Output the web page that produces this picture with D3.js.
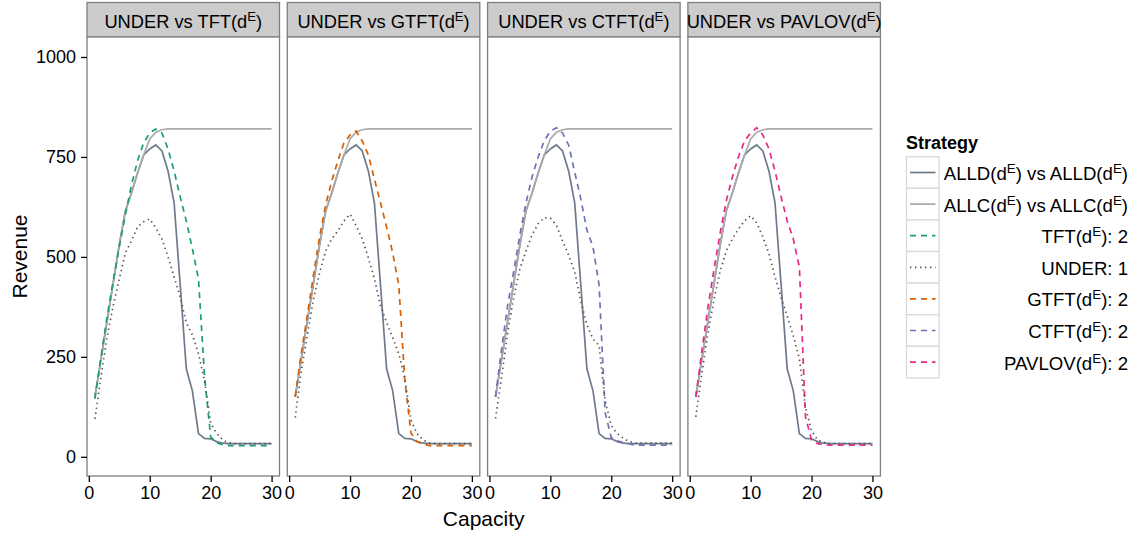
<!DOCTYPE html>
<html>
<head>
<meta charset="utf-8">
<script src="https://cdn.jsdelivr.net/npm/d3@7"></script>
<style>
  body { margin: 0; background: #fff; }
  svg { font-family: "Liberation Sans", Arial, sans-serif; }
</style>
</head>
<body>
<svg width="1136" height="536"></svg>
<script>
// capacity values on the x axis
const capacity = [1, 2, 3, 4, 5, 6, 7, 8, 9, 10, 11, 12, 13, 14, 15,
  16, 17, 18, 19, 20, 21, 22, 23, 24, 25, 26, 27, 28, 29, 30];

// baselines, same in every panel
const alld = [150, 245, 340, 435, 530, 615, 660, 710, 755, 770, 780, 765, 715, 635, 430,
  220, 165, 58, 46, 45, 38, 34, 33, 33, 33, 33, 33, 33, 33, 33];
const allc = [150, 245, 340, 435, 530, 615, 660, 710, 755, 795, 812, 818, 820, 820, 820,
  820, 820, 820, 820, 820, 820, 820, 820, 820, 820, 820, 820, 820, 820, 820];

// opponent strategy (2 of them) in each panel
const tft = [145, 250, 350, 440, 525, 605, 680, 740, 785, 810, 820, 810, 770, 715, 650,
  590, 520, 445, 200, 50, 35, 30, 28, 28, 28, 28, 28, 28, 28, 28];
const gtft = [150, 260, 355, 455, 550, 630, 690, 740, 785, 805, 815, 790, 755, 695, 635,
  575, 510, 430, 190, 60, 38, 32, 28, 28, 28, 28, 28, 28, 28, 28];
const ctft = [150, 270, 380, 465, 555, 635, 700, 750, 790, 815, 823, 810, 780, 712, 645,
  567, 525, 430, 110, 48, 40, 35, 32, 29, 29, 29, 29, 29, 29, 29];
const pavlov = [150, 265, 375, 470, 560, 640, 700, 750, 790, 810, 823, 805, 770, 715, 650,
  590, 545, 475, 100, 42, 33, 30, 29, 29, 29, 29, 29, 29, 29, 29];

// UNDER (1 of them) in each panel
const underTft = [95, 200, 300, 378, 445, 510, 540, 575, 588, 595, 572, 545, 500, 450, 400,
  335, 305, 258, 190, 85, 58, 42, 35, 33, 33, 33, 33, 33, 33, 33];
const underGtft = [98, 215, 305, 395, 460, 515, 545, 565, 590, 607, 578, 545, 498, 445, 378,
  336, 298, 258, 195, 92, 58, 42, 35, 33, 33, 33, 33, 33, 33, 33];
const underCtft = [96, 200, 310, 400, 470, 515, 555, 583, 598, 597, 579, 540, 505, 462, 390,
  330, 295, 278, 140, 78, 58, 46, 38, 34, 34, 34, 34, 34, 34, 34];
const underPavlov = [100, 210, 310, 395, 465, 515, 545, 570, 590, 603, 585, 550, 508, 450, 398,
  352, 303, 245, 125, 65, 42, 36, 33, 33, 33, 33, 33, 33, 33, 33];

const panelNames = ['TFT', 'GTFT', 'CTFT', 'PAVLOV'];
const panelSeries = [tft, gtft, ctft, pavlov];
const panelUnder = [underTft, underGtft, underCtft, underPavlov];

const xTicks = [0, 10, 20, 30];
const yTicks = [0, 250, 500, 750, 1000];

const colors = {
  ALLD: '#6d7b8b', ALLC: '#aaaaaa', UNDER: '#555555',
  TFT: '#1b9e77', GTFT: '#d95f02', CTFT: '#7570b3', PAVLOV: '#e7298a'
};
const dashed = '6,5';
const dotted = '1.4,3.6';

const svg = d3.select('svg');

const panelLeft = 87, panelW = 192.5, panelStep = 200.3;
const stripTop = 2.5, panelTop = 37, panelBottom = 476;

const x = d3.scaleLinear().domain([-0.3, 31.3]).range([0, panelW]);
const y = d3.scaleLinear().domain([-48, 1050]).range([panelBottom, panelTop]);

const line = d3.line()
  .x((d, i) => x(capacity[i]))
  .y(d => y(d));

// label with a superscript E after each "(d"
function richLabel(sel, parts) {
  parts.forEach(p => {
    if (p === '^E') {
      sel.append('tspan').attr('dy', -7).attr('font-size', '0.72em').text('E');
    } else if (p.startsWith(')')) {
      sel.append('tspan').attr('dy', 7).text(p);
    } else {
      sel.append('tspan').text(p);
    }
  });
}

panelNames.forEach((name, k) => {
  const g = svg.append('g').attr('transform', `translate(${panelLeft + k * panelStep},0)`);

  // strip
  g.append('rect')
    .attr('x', 0).attr('y', stripTop)
    .attr('width', panelW).attr('height', panelTop - stripTop)
    .attr('fill', '#cccccc').attr('stroke', '#7f7f7f').attr('stroke-width', 1.3);
  const st = g.append('text')
    .attr('x', panelW / 2).attr('y', 28)
    .attr('text-anchor', 'middle').attr('font-size', 18.3);
  richLabel(st, [`UNDER vs ${name}(d`, '^E', ')']);

  // panel
  g.append('rect')
    .attr('x', 0).attr('y', panelTop)
    .attr('width', panelW).attr('height', panelBottom - panelTop)
    .attr('fill', '#fff');

  const lines = [
    { v: alld, c: colors.ALLD, d: null },
    { v: allc, c: colors.ALLC, d: null },
    { v: panelSeries[k], c: colors[name], d: dashed },
    { v: panelUnder[k], c: colors.UNDER, d: dotted }
  ];
  lines.forEach(l => {
    g.append('path')
      .attr('d', line(l.v))
      .attr('fill', 'none')
      .attr('stroke', l.c)
      .attr('stroke-width', 1.7)
      .attr('stroke-dasharray', l.d);
  });

  g.append('rect')
    .attr('x', 0).attr('y', panelTop)
    .attr('width', panelW).attr('height', panelBottom - panelTop)
    .attr('fill', 'none').attr('stroke', '#7f7f7f').attr('stroke-width', 1.3);

  // x axis
  const xa = g.append('g').attr('transform', `translate(0,${panelBottom})`)
    .call(d3.axisBottom(x).tickValues(xTicks).tickSize(6).tickPadding(4));
  xa.select('.domain').remove();
  xa.selectAll('line').attr('stroke', '#000').attr('stroke-width', 1.3);
  xa.selectAll('text').attr('font-size', 18).attr('fill', '#000')
    .attr('font-family', '"Liberation Sans", Arial, sans-serif');
});

// y axis
const ya = svg.append('g').attr('transform', `translate(${panelLeft},0)`)
  .call(d3.axisLeft(y).tickValues(yTicks).tickFormat(d3.format('d')).tickSize(6).tickPadding(5));
ya.select('.domain').remove();
ya.selectAll('line').attr('stroke', '#000').attr('stroke-width', 1.3);
ya.selectAll('text').attr('font-size', 18).attr('fill', '#000')
  .attr('font-family', '"Liberation Sans", Arial, sans-serif');

// axis titles
svg.append('text')
  .attr('x', panelLeft + (3 * panelStep + panelW) / 2).attr('y', 526)
  .attr('text-anchor', 'middle').attr('font-size', 21).text('Capacity');
svg.append('text')
  .attr('transform', `translate(27,${(panelTop + panelBottom) / 2}) rotate(-90)`)
  .attr('text-anchor', 'middle').attr('font-size', 21).text('Revenue');

// legend
const legendItems = [
  { parts: ['ALLD(d', '^E', ') vs ALLD(d', '^E', ')'], c: colors.ALLD, d: null },
  { parts: ['ALLC(d', '^E', ') vs ALLC(d', '^E', ')'], c: colors.ALLC, d: null },
  { parts: ['TFT(d', '^E', '): 2'], c: colors.TFT, d: dashed },
  { parts: ['UNDER: 1'], c: colors.UNDER, d: dotted },
  { parts: ['GTFT(d', '^E', '): 2'], c: colors.GTFT, d: dashed },
  { parts: ['CTFT(d', '^E', '): 2'], c: colors.CTFT, d: dashed },
  { parts: ['PAVLOV(d', '^E', '): 2'], c: colors.PAVLOV, d: dashed }
];
const lg = svg.append('g');
lg.append('text').attr('x', 906).attr('y', 149)
  .attr('font-size', 18).attr('font-weight', 'bold').text('Strategy');
const keyH = 31.6, keyW = 32.5, keyTop = 156.7, keyLeft = 906.5;
legendItems.forEach((it, i) => {
  const ky = keyTop + i * keyH;
  lg.append('rect')
    .attr('x', keyLeft).attr('y', ky).attr('width', keyW).attr('height', keyH)
    .attr('fill', '#fff').attr('stroke', '#d9d9d9').attr('stroke-width', 1.3);
  lg.append('line')
    .attr('x1', keyLeft + 3.5).attr('x2', keyLeft + keyW - 3.5)
    .attr('y1', ky + keyH / 2).attr('y2', ky + keyH / 2)
    .attr('stroke', it.c).attr('stroke-width', 1.7)
    .attr('stroke-dasharray', it.d);
  const t = lg.append('text')
    .attr('x', 1128).attr('y', ky + keyH / 2 + 7.5)
    .attr('text-anchor', 'end').attr('font-size', 18.6);
  richLabel(t, it.parts);
});
</script>
</body>
</html>
